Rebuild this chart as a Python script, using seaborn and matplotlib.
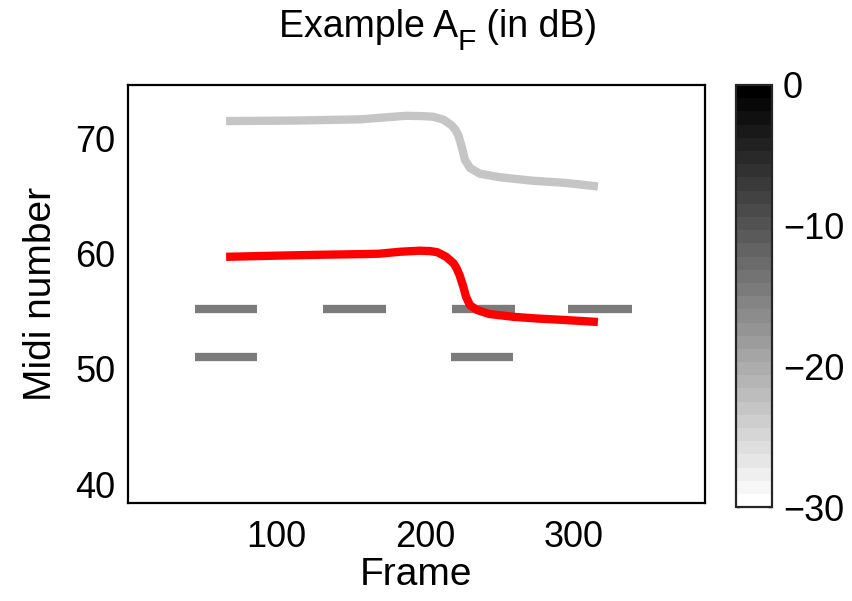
import numpy as np
import pandas as pd
import matplotlib
matplotlib.use("Agg")
import matplotlib.pyplot as plt
import matplotlib.colors as mcolors
import seaborn as sns

# Pitch tracks (frame -> MIDI number)
red_frame = [66, 100, 130, 160, 169, 183, 196, 203, 208, 214, 219, 221, 223, 225.5, 227.3, 230, 234.5, 243, 259, 275, 290, 303, 316]
red_midi = [59.7, 59.8, 59.88, 59.94, 59.97, 60.14, 60.23, 60.2, 60.1, 59.7, 59.13, 58.7, 58.1, 57.1, 56.24, 55.5, 55.1, 54.74, 54.5, 54.35, 54.25, 54.15, 54.05]

gray_frame = [66, 115, 156, 174, 187, 198, 205, 212, 217.6, 220, 222.1, 224.4, 226.6, 230, 236.7, 250, 272, 295, 316]
gray_midi = [71.47, 71.52, 71.62, 71.8, 71.93, 71.9, 71.85, 71.6, 71.1, 70.75, 70.26, 69.25, 68.1, 67.4, 66.9, 66.6, 66.3, 66.1, 65.8]
gray_db = -23

# Note segments: start frame, end frame, MIDI number, level (dB)
seg_start = [45, 131, 218, 296, 45, 217]
seg_end = [86.5, 173.5, 260, 339, 86.5, 259]
seg_midi = [55.15, 55.15, 55.15, 55.15, 51.0, 51.0]
seg_db = [-15, -15, -15, -15, -15, -15]

sns.set_style("white")
plt.rcParams["font.family"] = ["Liberation Sans", "DejaVu Sans"]
plt.rcParams["text.color"] = "black"
plt.rcParams["axes.labelcolor"] = "black"
plt.rcParams["xtick.color"] = "black"
plt.rcParams["ytick.color"] = "black"

FS = 26
LFS = 28
LW = 6.0

cmap = plt.get_cmap("gray_r", 32)
norm = mcolors.Normalize(vmin=-30, vmax=0)

fig = plt.figure(figsize=(8.53, 6.01), dpi=100)
ax = fig.add_axes([0.150, 0.163, 0.6765, 0.6956])
cax = fig.add_axes([0.863, 0.156, 0.042, 0.7026])

seg_df = pd.DataFrame({"start": seg_start, "end": seg_end, "midi": seg_midi, "db": seg_db})
for _, r in seg_df.iterrows():
    ax.plot([r["start"], r["end"]], [r["midi"], r["midi"]], color=cmap(norm(r["db"])),
            lw=LW, solid_capstyle="butt")

gray_df = pd.DataFrame({"frame": gray_frame, "midi": gray_midi})
red_df = pd.DataFrame({"frame": red_frame, "midi": red_midi})
sns.lineplot(data=gray_df, x="frame", y="midi", ax=ax, color=cmap(norm(gray_db)),
             lw=LW, solid_capstyle="butt", solid_joinstyle="round", sort=False)
sns.lineplot(data=red_df, x="frame", y="midi", ax=ax, color="#ff0000",
             lw=LW, solid_capstyle="butt", solid_joinstyle="round", sort=False)

ax.set_xlim(0, 388)
ax.set_ylim(38.35, 74.6)
ax.set_xticks([100, 200, 300])
ax.set_yticks([40, 50, 60, 70])
ax.tick_params(direction="in", length=4, width=1, labelsize=FS, color="black")
ax.tick_params(axis="x", pad=12)
ax.tick_params(axis="y", pad=9)
ax.tick_params(axis="both", top=False, right=False)
for s in ax.spines.values():
    s.set_linewidth(1.6)
    s.set_color("black")
ax.set_xlabel("Frame", fontsize=LFS, labelpad=2)
ax.set_ylabel("Midi number", fontsize=LFS, labelpad=12)

sm = matplotlib.cm.ScalarMappable(norm=norm, cmap=cmap)
cb = fig.colorbar(sm, cax=cax, ticks=[0, -10, -20, -30])
cb.outline.set_linewidth(1.6)
cax.tick_params(direction="in", length=3, width=1, labelsize=FS, pad=8, left=True, right=True)

# Title with a large subscript: "Example A" + "F" + " (in dB)"
fig.canvas.draw()
renderer = fig.canvas.get_renderer()
y_base = 1 - 37 / 601
t1 = fig.text(0, y_base, "Example A", fontsize=27, ha="left", va="baseline")
t2 = fig.text(0, y_base - 13 / 601, "F", fontsize=27 * 0.8, ha="left", va="baseline")
t3 = fig.text(0, y_base, " (in dB)", fontsize=27, ha="left", va="baseline")
w1 = t1.get_window_extent(renderer).width
w2 = t2.get_window_extent(renderer).width
w3 = t3.get_window_extent(renderer).width
W = fig.bbox.width
x0 = 438 / 853 - (w1 + w2 + w3) / 2 / W
t1.set_x(x0)
t2.set_x(x0 + w1 / W)
t3.set_x(x0 + (w1 + w2) / W)

fig.savefig("out.png", dpi=100, facecolor="white")
